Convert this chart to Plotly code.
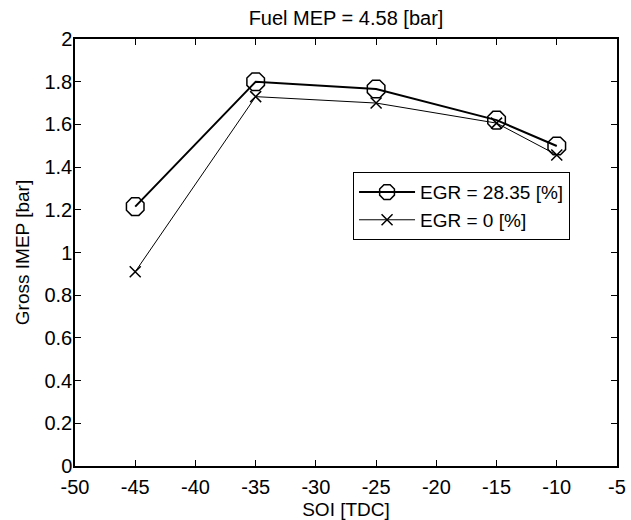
import plotly.graph_objects as go

soi = [-45, -35, -25, -15, -10]
imep_egr28 = [1.215, 1.80, 1.766, 1.62, 1.499]
imep_egr0 = [0.91, 1.73, 1.70, 1.606, 1.457]
name_egr28 = "EGR = 28.35 [%]"
name_egr0 = "EGR = 0 [%]"

x_tickvals = [-50, -45, -40, -35, -30, -25, -20, -15, -10, -5]
x_ticktext = ["-50", "-45", "-40", "-35", "-30", "-25", "-20", "-15", "-10", "-5"]
y_tickvals = [0, 0.2, 0.4, 0.6, 0.8, 1.0, 1.2, 1.4, 1.6, 1.8, 2.0]
y_ticktext = ["0", "0.2", "0.4", "0.6", "0.8", "1", "1.2", "1.4", "1.6", "1.8", "2"]

FONT = "Liberation Sans, Arial"

fig = go.Figure()
fig.add_trace(go.Scatter(x=soi, y=imep_egr28, mode="lines+markers", name=name_egr28,
                         line=dict(color="black", width=2),
                         marker=dict(symbol="octagon-open", size=19, color="black", line=dict(width=1.5))))
fig.add_trace(go.Scatter(x=soi, y=imep_egr0, mode="lines+markers", name=name_egr0,
                         line=dict(color="black", width=1),
                         marker=dict(symbol="x-thin-open", size=11, color="black", line=dict(width=1.5, color="black"))))

axis_common = dict(showgrid=False, zeroline=False, showline=True, linecolor="black", linewidth=1.5,
                   mirror="ticks", ticks="inside", ticklen=6, tickcolor="black", tickwidth=1,
                   automargin=False,
                   tickfont=dict(family=FONT, size=20, color="black"))

fig.update_layout(
    width=631, height=520,
    paper_bgcolor="white", plot_bgcolor="white",
    margin=dict(l=75, r=14, t=39, b=54),
    title=dict(text="Fuel MEP = 4.58 [bar]", x=0.5, xanchor="center", xref="paper", y=0.965, yanchor="middle",
               font=dict(family=FONT, size=20, color="black"), automargin=False),
    xaxis=dict(range=[-50, -5], tickmode="array", tickvals=x_tickvals, ticktext=x_ticktext,
               ticklabelstandoff=2,
               title=dict(text="SOI [TDC]", font=dict(family=FONT, size=19, color="black"), standoff=6),
               **axis_common),
    yaxis=dict(range=[0, 2], tickmode="array", tickvals=y_tickvals, ticktext=y_ticktext,
               ticklabelstandoff=-3,
               title=dict(text="Gross IMEP [bar]", font=dict(family=FONT, size=19, color="black"), standoff=10),
               **axis_common),
    legend=dict(x=0.513, y=0.688, xanchor="left", yanchor="top", bgcolor="white", bordercolor="black", borderwidth=1,
                font=dict(family=FONT, size=19, color="black"), tracegroupgap=0, itemwidth=56),
    showlegend=True,
)

fig.write_html("out.html")
